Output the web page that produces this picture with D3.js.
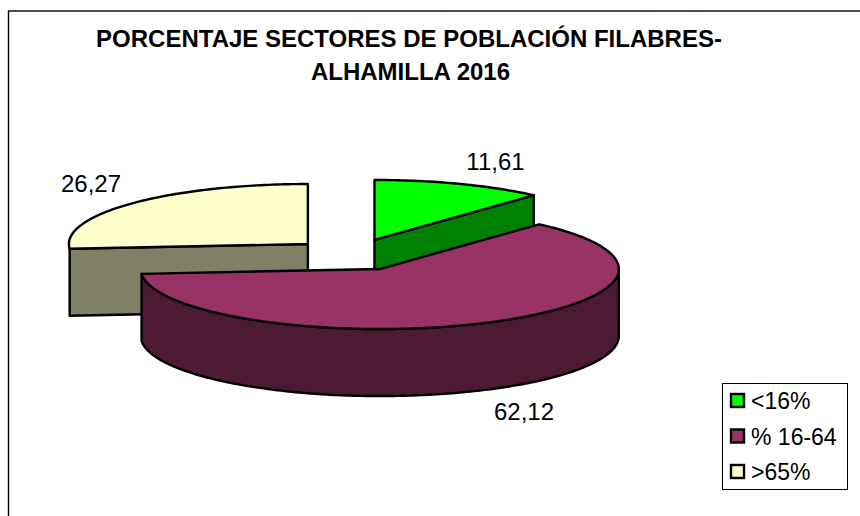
<!DOCTYPE html>
<html><head><meta charset="utf-8">
<script src="https://cdn.jsdelivr.net/npm/d3@7"></script>
<style>html,body{margin:0;padding:0;background:#fff}svg{display:block}
text{font-family:"Liberation Sans",Arial,sans-serif;fill:#000}</style></head>
<body><svg id="c" width="860" height="516"></svg>
<script>
const titleLines = ["PORCENTAJE SECTORES DE POBLACIÓN FILABRES-", "ALHAMILLA 2016"];
const categories = ["<16%", "% 16-64", ">65%"];
const values = [11.61, 62.12, 26.27];
const valueLabels = ["11,61", "62,12", "26,27"];
const topColors = ["#00ff00", "#993366", "#ffffcc"];
const sideColors = ["#008000", "#4d1a33", "#808066"];

const svg = d3.select("#c");
const rx = 239, ry = 60, depth = 67, explodeX = 61, explodeY = 15.9, baseX = 352.7, baseY = 254.8;
const x = d3.scaleLinear().domain([-1, 1]).range([-rx, rx]);
const y = d3.scaleLinear().domain([-1, 1]).range([-ry, ry]);
const arcs = d3.pie().sort(null).value(d => d)(values);

svg.append("rect").attr("x", 8.5).attr("y", 11).attr("width", 860).attr("height", 520)
  .attr("fill", "#fff").attr("stroke", "#000").attr("stroke-width", 1.4);

const ln = d3.line();
function rimPts(a0, a1, cx, cy) {
  const n = Math.max(2, Math.ceil((a1 - a0) * 60));
  return d3.range(n + 1).map(i => {
    const a = a0 + (a1 - a0) * i / n;
    return [cx + x(Math.sin(a)), cy + y(-Math.cos(a))];
  });
}
const centers = arcs.map(a => {
  const m = (a.startAngle + a.endAngle) / 2;
  return [baseX + explodeX * Math.sin(m), baseY - explodeY * Math.cos(m)];
});
function face(pts, fill) {
  svg.append("path").attr("d", ln(pts) + "Z").attr("fill", fill)
    .attr("stroke", "#000").attr("stroke-width", 2.4).attr("stroke-linejoin", "round");
}
function drawSlice(i) {
  const a = arcs[i], [cx, cy] = centers[i];
  const rim = rimPts(a.startAngle, a.endAngle, cx, cy);
  if (i === 0) {
    const e = rim[rim.length - 1];
    face([[cx, cy], e, [e[0], e[1] + depth], [cx, cy + depth]], sideColors[i]);
  }
  if (i === 2) {
    const s = rim[0];
    face([[cx, cy], s, [s[0], s[1] + depth], [cx, cy + depth]], sideColors[i]);
  }
  if (i === 1) {
    const top = rimPts(Math.max(a.startAngle, Math.PI / 2), Math.min(a.endAngle, Math.PI * 1.5), cx, cy);
    const bot = top.map(p => [p[0], p[1] + depth]).reverse();
    face(top.concat(bot), sideColors[i]);
  }
  face([[cx, cy], ...rim], topColors[i]);
}
[2, 0, 1].forEach(drawSlice);

svg.append("g").selectAll("text").data(titleLines).join("text")
  .attr("x", (d, i) => i ? 410.5 : 409).attr("y", (d, i) => i ? 79.5 : 47)
  .attr("text-anchor", "middle").attr("font-size", 24).attr("font-weight", "bold").text(d => d);

const labelPos = [[495.5, 169.5], [524, 419.5], [91, 192]];
svg.append("g").selectAll("text").data(valueLabels).join("text")
  .attr("x", (d, i) => labelPos[i][0]).attr("y", (d, i) => labelPos[i][1])
  .attr("text-anchor", "middle").attr("font-size", 24).text(d => d);

const lx = 722, ly = 383;
svg.append("rect").attr("x", lx + .5).attr("y", ly + .5).attr("width", 125).attr("height", 106)
  .attr("fill", "#fff").attr("stroke", "#000").attr("stroke-width", 1);
const rows = svg.append("g").selectAll("g").data(categories).join("g")
  .attr("transform", (d, i) => `translate(${lx + 8},${ly + 10 + i * 35.5})`);
rows.append("rect").attr("x", 1).attr("y", 1).attr("width", 13).attr("height", 13)
  .attr("fill", (d, i) => topColors[i]).attr("stroke", "#000").attr("stroke-width", 2.4);
rows.append("text").attr("x", 21).attr("y", 16).attr("font-size", 23).text(d => d);
</script></body></html>
